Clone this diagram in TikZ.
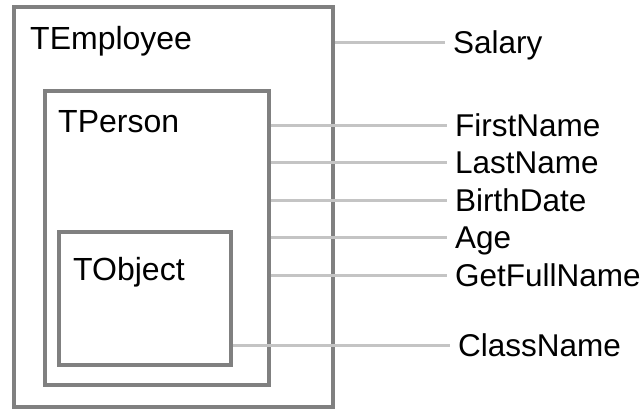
\documentclass[tikz,border=0pt]{standalone}
\usepackage{fontspec}
\setmainfont{Liberation Sans}
\definecolor{boxgray}{RGB}{128,128,128}
\definecolor{linegray}{RGB}{196,196,196}
\begin{document}
\begin{tikzpicture}[x=1pt,y=-1pt,
  classbox/.style={draw=boxgray, line width=4.5pt, fill=none, inner sep=0pt},
  title/.style={anchor=base west, inner sep=0pt, font=\fontsize{32}{38}\selectfont},
  member/.style={anchor=west, inner xsep=8pt, inner ysep=0pt, text height=22pt, text depth=0pt, font=\fontsize{31.5}{37}\selectfont},
  conn/.style={draw=linegray, line width=3pt}]
\useasboundingbox (0,0) rectangle (643,412);
% boxes
\node[classbox, minimum width=319pt, minimum height=400pt] (emp) at (173.5,207) {};
\node[classbox, minimum width=224pt, minimum height=294pt] (per) at (157,238) {};
\node[classbox, minimum width=172pt, minimum height=133pt] (obj) at (145,298.5) {};
% titles
\node[title] (tEmp) at (30,50) {TEmployee};
\node[title] (tPer) at (58,132) {TPerson};
\node[title] (tObj) at (73,280) {TObject};
% member labels
\node[member] (sal) at (445,43) {Salary};
\node[member] (fn) at (447,125) {FirstName};
\node[member] (ln) at (447,162) {LastName};
\node[member] (bd) at (447,200) {BirthDate};
\node[member] (age) at (447,237) {Age};
\node[member] (gfn) at (447,275) {GetFullName};
\node[member] (cn) at (450,345) {ClassName};
% connectors
\draw[conn] (emp.east |- sal.west) -- (sal.west);
\draw[conn] (per.east |- fn.west) -- (fn.west);
\draw[conn] (per.east |- ln.west) -- (ln.west);
\draw[conn] (per.east |- bd.west) -- (bd.west);
\draw[conn] (per.east |- age.west) -- (age.west);
\draw[conn] (per.east |- gfn.west) -- (gfn.west);
\draw[conn] (obj.east |- cn.west) -- (cn.west);
\end{tikzpicture}
\end{document}
